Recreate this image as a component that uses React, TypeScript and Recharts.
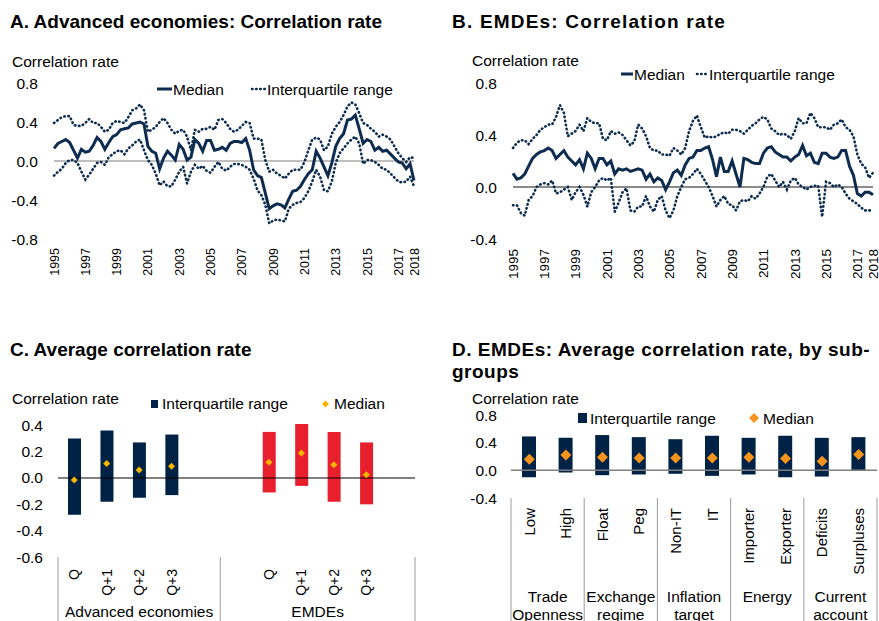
import React from 'react';
import { LineChart, Line, XAxis, YAxis, ReferenceLine, ComposedChart, Bar, Scatter, Cell } from 'recharts';

const FONT = '"Liberation Sans", Arial, sans-serif';
const NAVY = '#0d2c50';
const BAR_NAVY = '#002345';
const RED = '#e8202e';

// ---------- Panels A & B: quarterly, 1995Q1 .. 2018Q1 ----------
const startYear = 1995;
const yearTicks = [0, 8, 16, 24, 32, 40, 48, 56, 64, 72, 80, 88, 92];

const aeMedian = [
  0.13, 0.18, 0.2, 0.22, 0.19, 0.11, 0.03, 0.12, 0.09, 0.1,
  0.16, 0.24, 0.2, 0.12, 0.19, 0.25, 0.27, 0.32, 0.33, 0.34,
  0.38, 0.39, 0.4, 0.38, 0.15, 0.1, 0.08, -0.08, 0.03, 0.1,
  0.06, 0.01, 0.17, 0.12, 0.01, 0.04, 0.22, 0.18, 0.1, 0.21,
  0.21, 0.11, 0.12, 0.14, 0.11, 0.18, 0.2, 0.2, 0.19, 0.23,
  0.11, -0.09, -0.15, -0.17, -0.33, -0.49, -0.46, -0.44, -0.45, -0.48,
  -0.39, -0.31, -0.3, -0.26, -0.19, -0.13, -0.09, 0.1, 0.03, -0.06,
  -0.15, -0.02, 0.15, 0.23, 0.28, 0.42, 0.43, 0.47, 0.33, 0.18,
  0.22, 0.2, 0.11, 0.14, 0.1, 0.11, 0.07, 0.03, -0.01, -0.02,
  -0.08, -0.03, -0.2,
];
const aeUpper = [
  0.39, 0.42, 0.45, 0.46, 0.46, 0.37, 0.36, 0.36, 0.39, 0.43,
  0.39, 0.39, 0.35, 0.3, 0.32, 0.39, 0.41, 0.4, 0.39, 0.45,
  0.52, 0.54, 0.58, 0.52, 0.3, 0.32, 0.35, 0.4, 0.44, 0.39,
  0.32, 0.28, 0.31, 0.32, 0.25, 0.11, 0.32, 0.3, 0.33, 0.33,
  0.35, 0.32, 0.42, 0.43, 0.39, 0.33, 0.3, 0.32, 0.36, 0.4,
  0.39, 0.23, 0.23, 0.22, 0.01, -0.11, -0.09, -0.13, -0.15, -0.18,
  -0.13, -0.09, -0.09, -0.09, -0.01, 0.11, 0.22, 0.24, 0.22, 0.11,
  0.15, 0.28, 0.35, 0.4, 0.47, 0.56, 0.6, 0.58, 0.49, 0.39,
  0.37, 0.33, 0.3, 0.25, 0.27, 0.25, 0.22, 0.15, 0.08, 0.03,
  -0.01, 0.04, 0.03,
];
const aeLower = [
  -0.15, -0.11, -0.08, -0.02, 0.01, 0.01, -0.02, -0.11, -0.19, -0.14,
  -0.08, -0.02, -0.01, -0.04, 0.04, 0.07, 0.1, 0.11, 0.07, 0.13,
  0.16, 0.2, 0.22, 0.11, 0.01, -0.04, -0.13, -0.25, -0.21, -0.26,
  -0.26, -0.19, -0.11, -0.06, -0.23, -0.11, -0.04, -0.08, -0.05, -0.1,
  -0.12, -0.06, -0.01, -0.08, -0.1, -0.06, -0.03, -0.03, -0.04, -0.06,
  -0.09, -0.18, -0.3, -0.35, -0.45, -0.64, -0.61, -0.6, -0.61, -0.62,
  -0.49, -0.45, -0.43, -0.42, -0.38, -0.31, -0.21, -0.09, -0.16, -0.3,
  -0.31, -0.21, -0.02, 0.08, 0.13, 0.18, 0.22, 0.25, 0.18, -0.03,
  0.01, 0.01, -0.01, -0.04, -0.08, -0.09, -0.13, -0.17, -0.21, -0.22,
  -0.21, -0.16, -0.26,
];

const emMedian = [
  0.105, 0.06, 0.07, 0.1, 0.16, 0.22, 0.25, 0.27, 0.28, 0.3,
  0.28, 0.22, 0.25, 0.28, 0.23, 0.2, 0.17, 0.21, 0.14, 0.26,
  0.22, 0.14, 0.22, 0.22, 0.17, 0.2, 0.1, 0.14, 0.13, 0.14,
  0.12, 0.13, 0.14, 0.13, 0.06, 0.1, 0.04, 0.07, 0.05, -0.02,
  0.04, 0.11, 0.13, 0.09, 0.17, 0.22, 0.23, 0.28, 0.28, 0.3,
  0.31, 0.21, 0.08, 0.23, 0.12, 0.12, 0.2, 0.1, 0.0, 0.22,
  0.21, 0.19, 0.18, 0.18, 0.26, 0.3, 0.31, 0.27, 0.25, 0.23,
  0.23, 0.2, 0.23, 0.25, 0.32, 0.24, 0.26, 0.19, 0.18, 0.26,
  0.26, 0.23, 0.22, 0.23, 0.28, 0.28, 0.16, 0.09, -0.05, -0.07,
  -0.04, -0.04, -0.06,
];
const emUpper = [
  0.3, 0.34, 0.36, 0.36, 0.33, 0.37, 0.4, 0.44, 0.46, 0.48,
  0.48, 0.54, 0.63, 0.57, 0.39, 0.41, 0.43, 0.48, 0.43, 0.53,
  0.5, 0.49, 0.49, 0.37, 0.36, 0.43, 0.41, 0.42, 0.4, 0.36,
  0.32, 0.35, 0.48, 0.45, 0.39, 0.3, 0.28, 0.28, 0.25, 0.25,
  0.24, 0.3, 0.28, 0.25, 0.3, 0.43, 0.51, 0.55, 0.46, 0.38,
  0.39, 0.38, 0.39, 0.41, 0.42, 0.41, 0.44, 0.44, 0.43, 0.41,
  0.44, 0.47, 0.49, 0.52, 0.54, 0.52, 0.45, 0.43, 0.4, 0.41,
  0.4, 0.37, 0.43, 0.53, 0.49, 0.49, 0.57, 0.53, 0.46, 0.46,
  0.46, 0.44, 0.48, 0.49, 0.52, 0.46, 0.44, 0.39, 0.25, 0.18,
  0.15, 0.07, 0.11,
];
const emLower = [
  -0.14, -0.14, -0.2, -0.22, -0.1, -0.07, 0.0, 0.02, 0.03, 0.02,
  0.05, -0.05, -0.04, -0.02, 0.0, -0.1, -0.04, 0.0, -0.06, -0.15,
  -0.04, 0.0, 0.05, 0.07, 0.05, 0.07, -0.19, -0.12, -0.04, -0.01,
  -0.18, -0.19, -0.15, -0.15, -0.07, -0.15, -0.19, -0.1, -0.07, -0.18,
  -0.24, -0.18, -0.07, 0.0, 0.06, 0.07, 0.1, 0.14, 0.1, 0.05,
  0.0, -0.07, -0.15, -0.1, -0.07, -0.13, -0.14, -0.18, -0.11, -0.1,
  -0.11, -0.07, -0.09, -0.05, 0.0, 0.08, 0.1, 0.05, 0.0, 0.04,
  -0.02, 0.05, 0.07, 0.02, 0.0, -0.02, 0.0, 0.01, 0.01, -0.23,
  0.04, 0.03, 0.0, 0.02, 0.0, -0.05, -0.09, -0.11, -0.13, -0.16,
  -0.18, -0.18, -0.18,
];

const aeData = aeMedian.map((m, t) => ({ t, median: m, upper: aeUpper[t], lower: aeLower[t] }));
const emData = emMedian.map((m, t) => ({ t, median: m, upper: emUpper[t], lower: emLower[t] }));

// ---------- Panel C ----------
const quarterLabels = ['Q', 'Q+1', 'Q+2', 'Q+3'];
const aeIqrLow = [-0.28, -0.18, -0.15, -0.13];
const aeIqrHigh = [0.3, 0.36, 0.27, 0.33];
const aeAvgMedian = [-0.015, 0.11, 0.06, 0.09];
const emIqrLow = [-0.11, -0.06, -0.18, -0.2];
const emIqrHigh = [0.35, 0.41, 0.35, 0.27];
const emAvgMedian = [0.12, 0.19, 0.1, 0.025];

const gapRow = (k: string) => ({ key: k, label: '', range: null as any, median: null as any, color: 'none' });
const cData = [
  ...quarterLabels.map((q, i) => ({ key: 'ae' + i, label: q, range: [aeIqrLow[i], aeIqrHigh[i]], median: aeAvgMedian[i], color: BAR_NAVY })),
  gapRow('g1'),
  gapRow('g2'),
  ...quarterLabels.map((q, i) => ({ key: 'em' + i, label: q, range: [emIqrLow[i], emIqrHigh[i]], median: emAvgMedian[i], color: RED })),
  gapRow('g3'),
];
const cGroups = [
  { name: ['Advanced economies'], start: 0, end: 4 },
  { name: ['EMDEs'], start: 5, end: 10 },
];

// ---------- Panel D ----------
const dCats = ['Low', 'High', 'Float', 'Peg', 'Non-IT', 'IT', 'Importer', 'Exporter', 'Deficits', 'Surpluses'];
const dIqrLow = [-0.1, -0.03, -0.07, -0.06, -0.05, -0.08, -0.06, -0.1, -0.09, -0.01];
const dIqrHigh = [0.49, 0.47, 0.51, 0.48, 0.45, 0.5, 0.47, 0.5, 0.47, 0.48];
const dMedian = [0.16, 0.22, 0.19, 0.18, 0.18, 0.18, 0.19, 0.17, 0.13, 0.23];
const dData = dCats.map((c, i) => ({ key: c, label: c, range: [dIqrLow[i], dIqrHigh[i]], median: dMedian[i] }));
const dGroups = [
  { name: ['Trade', 'Openness'], start: 0, end: 1 },
  { name: ['Exchange', 'regime'], start: 2, end: 3 },
  { name: ['Inflation', 'target'], start: 4, end: 5 },
  { name: ['Energy'], start: 6, end: 7 },
  { name: ['Current', 'account'], start: 8, end: 9 },
];

// ---------- helpers ----------
const fmt1 = (v: number) => v.toFixed(1);

const makeYearTick = (fontSize: number) => (props: any) => {
  const { x, y, payload } = props;
  const label = String(startYear + payload.value / 4);
  return (
    <text x={x} y={y} transform={`rotate(-90, ${x}, ${y})`} textAnchor="end" dy="0.36em"
      fontSize={fontSize} fontFamily={FONT} fill="#000">{label}</text>
  );
};

const makeCatTick = (rows: any[], groups: any[], bw: number, tickGap: number, axisH: number, fontSize: number, groupBase: number, groupLine: number) => (props: any) => {
  const { x, y, payload } = props;
  const i = rows.findIndex((r) => r.key === payload.value);
  const row = rows[i];
  const top = y - tickGap;
  const bottom = top + axisH;
  const els: any[] = [];
  groups.forEach((g, gi) => {
    if (g.start === i) {
      els.push(<line key={'s' + gi} x1={x - bw / 2} x2={x - bw / 2} y1={top} y2={bottom} stroke="#9a9a9a" strokeWidth={1} />);
      const cx = x + ((g.end - g.start) / 2) * bw;
      g.name.forEach((n: string, li: number) => {
        els.push(
          <text key={'g' + gi + '-' + li} x={cx} y={top + groupBase + li * groupLine} textAnchor="middle"
            fontSize={15.5} fontFamily={FONT} fill="#000">{n}</text>
        );
      });
    }
    if (g.end === i && i === rows.length - 1) {
      els.push(<line key={'e' + gi} x1={x + bw / 2} x2={x + bw / 2} y1={top} y2={bottom} stroke="#9a9a9a" strokeWidth={1} />);
    }
  });
  return (
    <g>
      {row && row.label ? (
        <text x={x} y={y} transform={`rotate(-90, ${x}, ${y})`} textAnchor="end" dy="0.36em"
          fontSize={fontSize} fontFamily={FONT} fill="#000">{row.label}</text>
      ) : null}
      {els}
    </g>
  );
};

const makeDiamond = (size: number, fill: string) => (props: any) => {
  const { cx, cy, payload } = props;
  if (payload == null || payload.median == null || !isFinite(cx) || !isFinite(cy)) return <g />;
  const r = size / 2;
  return <path d={`M${cx},${cy - r}L${cx + r},${cy}L${cx},${cy + r}L${cx - r},${cy}Z`} fill={fill} />;
};

const yTickStyle = { fontSize: 15.5, fill: '#000', fontFamily: FONT };

const dotted = { stroke: NAVY, strokeWidth: 2.6, strokeDasharray: '0.5 3.6', strokeLinecap: 'round' as const };

export default function App() {
  return (
    <div style={{ position: 'fixed', left: 0, top: 0, width: 879, height: 621, background: '#fff', overflow: 'hidden', fontFamily: FONT }}>
      {/* Panel A */}
      <div style={{ position: 'absolute', left: 0, top: 0 }}>
        <LineChart width={440} height={300} data={aeData} margin={{ top: 83, right: 26, bottom: 21, left: 0 }}>
          <XAxis type="number" dataKey="t" domain={[0, 92]} ticks={yearTicks} interval={0} height={40}
            tickLine={false} axisLine={false} tickSize={0} tickMargin={9} tick={makeYearTick(12.5)} />
          <YAxis type="number" domain={[-0.8, 0.8]} ticks={[-0.8, -0.4, 0, 0.4, 0.8]} width={54} interval={0}
            tickLine={false} axisLine={false} tickSize={0} tickMargin={16} tick={yTickStyle} tickFormatter={fmt1} />
          <ReferenceLine y={0} stroke="#7f7f7f" strokeWidth={1} />
          <Line type="linear" dataKey="upper" {...dotted} dot={false} isAnimationActive={false} />
          <Line type="linear" dataKey="lower" {...dotted} dot={false} isAnimationActive={false} />
          <Line type="linear" dataKey="median" stroke={NAVY} strokeWidth={3} dot={false} isAnimationActive={false} />
        </LineChart>
      </div>

      {/* Panel B */}
      <div style={{ position: 'absolute', left: 440, top: 0 }}>
        <LineChart width={439} height={300} data={emData} margin={{ top: 83, right: 6, bottom: 21, left: 0 }}>
          <XAxis type="number" dataKey="t" domain={[0, 92]} ticks={yearTicks} interval={0} height={40}
            tickLine={false} axisLine={false} tickSize={0} tickMargin={10} tick={makeYearTick(13.5)} />
          <YAxis type="number" domain={[-0.4, 0.8]} ticks={[-0.4, 0, 0.4, 0.8]} width={73} interval={0}
            tickLine={false} axisLine={false} tickSize={0} tickMargin={16} tick={yTickStyle} tickFormatter={fmt1} />
          <ReferenceLine y={0} stroke="#8a8a8a" strokeWidth={2} />
          <Line type="linear" dataKey="upper" {...dotted} dot={false} isAnimationActive={false} />
          <Line type="linear" dataKey="lower" {...dotted} dot={false} isAnimationActive={false} />
          <Line type="linear" dataKey="median" stroke={NAVY} strokeWidth={3} dot={false} isAnimationActive={false} />
        </LineChart>
      </div>

      {/* Panel C */}
      <div style={{ position: 'absolute', left: 0, top: 300 }}>
        <ComposedChart width={440} height={321} data={cData} margin={{ top: 124, right: 25, bottom: 0, left: 0 }}>
          <XAxis dataKey="key" type="category" interval={0} height={64} tickLine={false} axisLine={false}
            tickSize={0} tickMargin={12} tick={makeCatTick(cData, cGroups, 357 / 11, 12, 64, 14, 60, 18)} />
          <YAxis type="number" domain={[-0.6, 0.4]} ticks={[-0.6, -0.4, -0.2, 0, 0.2, 0.4]} width={58} interval={0}
            tickLine={false} axisLine={false} tickSize={0} tickMargin={15} tick={yTickStyle} tickFormatter={fmt1} />
          <ReferenceLine y={0} stroke="#000" strokeWidth={1} />
          <Bar dataKey="range" barSize={13} isAnimationActive={false}>
            {cData.map((d) => <Cell key={d.key} fill={d.color} />)}
          </Bar>
          <Scatter dataKey="median" shape={makeDiamond(7, '#f7b500')} isAnimationActive={false} />
        </ComposedChart>
      </div>

      {/* Panel D */}
      <div style={{ position: 'absolute', left: 440, top: 300 }}>
        <ComposedChart width={439} height={321} data={dData} margin={{ top: 115, right: 2, bottom: 0, left: 0 }}>
          <XAxis dataKey="key" type="category" interval={0} height={123} tickLine={false} axisLine={false}
            tickSize={0} tickMargin={10} tick={makeCatTick(dData, dGroups, 366 / 10, 10, 123, 15, 104, 18)} />
          <YAxis type="number" domain={[-0.4, 0.8]} ticks={[-0.4, 0, 0.4, 0.8]} width={71} interval={0}
            tickLine={false} axisLine={false} tickSize={0} tickMargin={14} tick={yTickStyle} tickFormatter={fmt1} />
          <ReferenceLine y={0} stroke="#7f7f7f" strokeWidth={1.5} />
          <Bar dataKey="range" barSize={14} fill={BAR_NAVY} isAnimationActive={false} />
          <Scatter dataKey="median" shape={makeDiamond(11, '#f7941d')} isAnimationActive={false} />
        </ComposedChart>
      </div>

      {/* Titles, axis captions and legends */}
      <svg width={879} height={621} style={{ position: 'absolute', left: 0, top: 0, pointerEvents: 'none' }} fontFamily={FONT}>
        <text x={10} y={28} fontSize={19} fontWeight="bold">A. Advanced economies: Correlation rate</text>
        <text x={452} y={28} fontSize={19} fontWeight="bold" letterSpacing={1.2}>B. EMDEs: Correlation rate</text>
        <text x={10} y={356} fontSize={19} fontWeight="bold">C. Average correlation rate</text>
        <text x={452} y={356} fontSize={19} fontWeight="bold" letterSpacing={0.5}>D. EMDEs: Average correlation rate, by sub-</text>
        <text x={452} y={378} fontSize={19} fontWeight="bold" letterSpacing={0.5}>groups</text>

        <text x={12} y={67} fontSize={15.5}>Correlation rate</text>
        <text x={472} y={66} fontSize={15.5}>Correlation rate</text>
        <text x={12} y={404} fontSize={15.5}>Correlation rate</text>
        <text x={472} y={404} fontSize={15.5}>Correlation rate</text>

        {/* Legend A */}
        <line x1={157} x2={172} y1={89} y2={89} stroke={NAVY} strokeWidth={3} />
        <text x={173} y={94.5} fontSize={15.5}>Median</text>
        <line x1={252} x2={265} y1={89} y2={89} {...dotted} />
        <text x={267} y={94.5} fontSize={15.5}>Interquartile range</text>

        {/* Legend B */}
        <line x1={621} x2={633} y1={74} y2={74} stroke={NAVY} strokeWidth={3} />
        <text x={634} y={79.5} fontSize={15.5}>Median</text>
        <line x1={697} x2={707} y1={74} y2={74} {...dotted} />
        <text x={709} y={79.5} fontSize={15.5}>Interquartile range</text>

        {/* Legend C */}
        <rect x={151} y={400} width={7} height={8} fill={BAR_NAVY} />
        <text x={162} y={409} fontSize={15.5}>Interquartile range</text>
        <path d="M325.5,400.5L329,404L325.5,407.5L322,404Z" fill="#f7b500" />
        <text x={334} y={409} fontSize={15.5}>Median</text>

        {/* Legend D */}
        <rect x={578} y={413} width={9} height={10} fill={BAR_NAVY} />
        <text x={590} y={423.5} fontSize={15.5}>Interquartile range</text>
        <path d="M754,413L759,418L754,423L749,418Z" fill="#f7941d" />
        <text x={763} y={423.5} fontSize={15.5}>Median</text>
      </svg>
    </div>
  );
}
